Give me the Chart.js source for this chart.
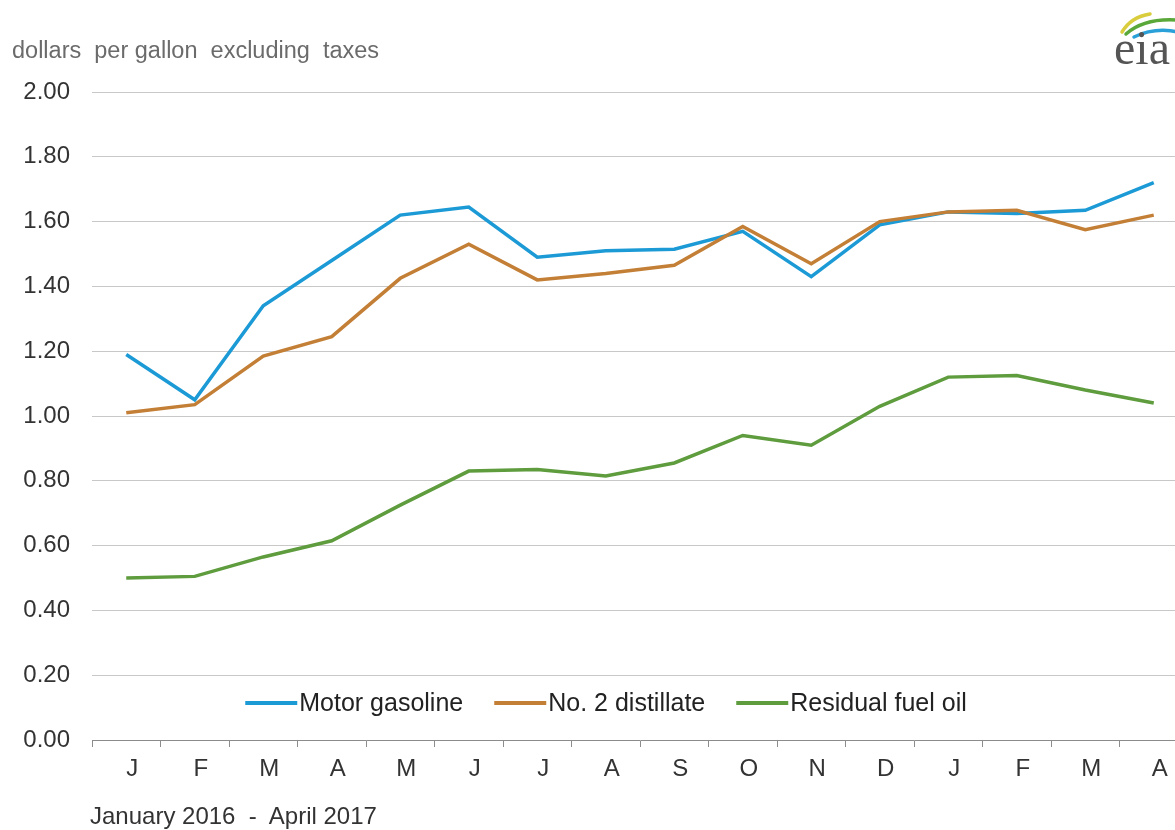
<!DOCTYPE html>
<html>
<head>
<meta charset="utf-8">
<script src="https://cdn.jsdelivr.net/npm/chart.js@4.4.1/dist/chart.umd.min.js"></script>
<style>
  html, body { margin: 0; padding: 0; background: #fff; }
  #wrap { position: relative; width: 1175px; height: 830px; overflow: hidden; }
  #chart { position: absolute; left: 0; top: 0; }
  .caption { position: absolute; font-family: "Liberation Sans", Arial, sans-serif; white-space: pre; }
  #units { left: 12px; top: 37px; color: #6b6b6b; font-size: 23.5px; }
  #period { left: 90px; top: 802px; color: #333; font-size: 24px; }
</style>
</head>
<body>
<div id="wrap">
  <!-- the original picture is cropped on the right, so the canvas runs past the edge -->
  <canvas id="chart" width="1188" height="830"></canvas>
  <div id="units" class="caption">dollars  per gallon  excluding  taxes</div>
  <div id="period" class="caption">January 2016  -  April 2017</div>
</div>
<script>
// Jan 2016 - Apr 2017, dollars per gallon excluding taxes
const months = ["J", "F", "M", "A", "M", "J", "J", "A", "S", "O", "N", "D", "J", "F", "M", "A"];
const gasoline = [1.19, 1.05, 1.34, 1.48, 1.62, 1.645, 1.49, 1.51, 1.515, 1.57, 1.43, 1.59, 1.63, 1.625, 1.635, 1.72];
const distillate = [1.01, 1.035, 1.185, 1.245, 1.425, 1.53, 1.42, 1.44, 1.465, 1.585, 1.47, 1.60, 1.63, 1.635, 1.575, 1.62];
const residual = [0.50, 0.505, 0.565, 0.615, 0.725, 0.83, 0.835, 0.815, 0.855, 0.94, 0.91, 1.03, 1.12, 1.125, 1.08, 1.04];
const seriesNames = ["Motor gasoline", "No. 2 distillate", "Residual fuel oil"];
const yTicks = { min: 0, max: 2, step: 0.2 };

const FONT = { family: '"Liberation Sans", Arial, sans-serif', size: 24 };

function lineSet(label, data, color, order) {
  return {
    label: label,
    data: data,
    borderColor: color,
    backgroundColor: color,
    borderWidth: 3.5,
    pointRadius: 0,
    tension: 0,
    fill: false,
    order: order,
  };
}

// legend drawn inside the plot area, just above the x axis
const insideLegend = {
  id: "insideLegend",
  afterDraw(chart, args, opts) {
    const ctx = chart.ctx;
    ctx.save();
    ctx.font = opts.fontSize + "px " + FONT.family;
    const items = chart.data.datasets.map(ds => ({ ds, w: ctx.measureText(ds.label).width }));
    const total = items.reduce((s, it) => s + opts.swatch + opts.gap + it.w, 0) + opts.itemGap * (items.length - 1);
    let x = opts.centerX - total / 2;
    items.forEach(it => {
      ctx.strokeStyle = it.ds.borderColor;
      ctx.lineWidth = 4;
      ctx.beginPath();
      ctx.moveTo(x, opts.lineY);
      ctx.lineTo(x + opts.swatch, opts.lineY);
      ctx.stroke();
      x += opts.swatch + opts.gap;
      ctx.fillStyle = "#222";
      ctx.textBaseline = "alphabetic";
      ctx.fillText(it.ds.label, x, opts.baseline);
      x += it.w + opts.itemGap;
    });
    ctx.restore();
  }
};

// rough eia logo in the top right corner
const eiaLogo = {
  id: "eiaLogo",
  afterDraw(chart) {
    const ctx = chart.ctx;
    ctx.save();
    ctx.lineCap = "round";
    const arcs = [
      ["#d9cd3e", 1122, 32, 1131, 17, 1150, 14],
      ["#5aa83a", 1126, 34, 1144, 18, 1177, 20],
      ["#29a0d8", 1134, 37, 1155, 27, 1178, 32],
    ];
    arcs.forEach(a => {
      ctx.strokeStyle = a[0];
      ctx.lineWidth = 3.5;
      ctx.beginPath();
      ctx.moveTo(a[1], a[2]);
      ctx.quadraticCurveTo(a[3], a[4], a[5], a[6]);
      ctx.stroke();
    });
    ctx.fillStyle = "#555";
    ctx.font = '48px "Liberation Serif", "Times New Roman", serif';
    ctx.textBaseline = "alphabetic";
    ctx.fillText("eia", 1114, 64);
    ctx.restore();
  }
};

new Chart(document.getElementById("chart"), {
  type: "line",
  data: {
    labels: months,
    datasets: [
      lineSet(seriesNames[0], gasoline, "#1c9ad6", 1),
      lineSet(seriesNames[1], distillate, "#c47f37", 0),
      lineSet(seriesNames[2], residual, "#5e9c3e", 2),
    ],
  },
  options: {
    responsive: false,
    animation: false,
    layout: { padding: { top: 92, right: 0, bottom: 0, left: 0 } },
    plugins: {
      legend: { display: false },
      tooltip: { enabled: false },
      insideLegend: { centerX: 606, lineY: 703, baseline: 711, swatch: 52, gap: 2, itemGap: 31, fontSize: 25 },
    },
    scales: {
      x: {
        offset: true,
        grid: { display: true, drawOnChartArea: false, drawTicks: true, tickLength: 7, color: "#8c8c8c", offset: true },
        border: { display: true, color: "#8c8c8c", width: 1 },
        ticks: { color: "#333", font: FONT, padding: 8, labelOffset: 6, maxRotation: 0, autoSkip: false },
        afterFit: s => { s.height = 90; },
      },
      y: {
        min: yTicks.min,
        max: yTicks.max,
        ticks: {
          stepSize: yTicks.step,
          color: "#333",
          font: FONT,
          padding: 22,
          callback: v => v.toFixed(2),
        },
        grid: {
          drawTicks: false,
          lineWidth: 1,
          color: c => (c.tick && c.tick.value === 0 ? "rgba(0,0,0,0)" : "#c8c8c8"),
        },
        border: { display: false },
        afterFit: s => { s.width = 92; },
      },
    },
  },
  plugins: [insideLegend, eiaLogo],
});
</script>
</body>
</html>
